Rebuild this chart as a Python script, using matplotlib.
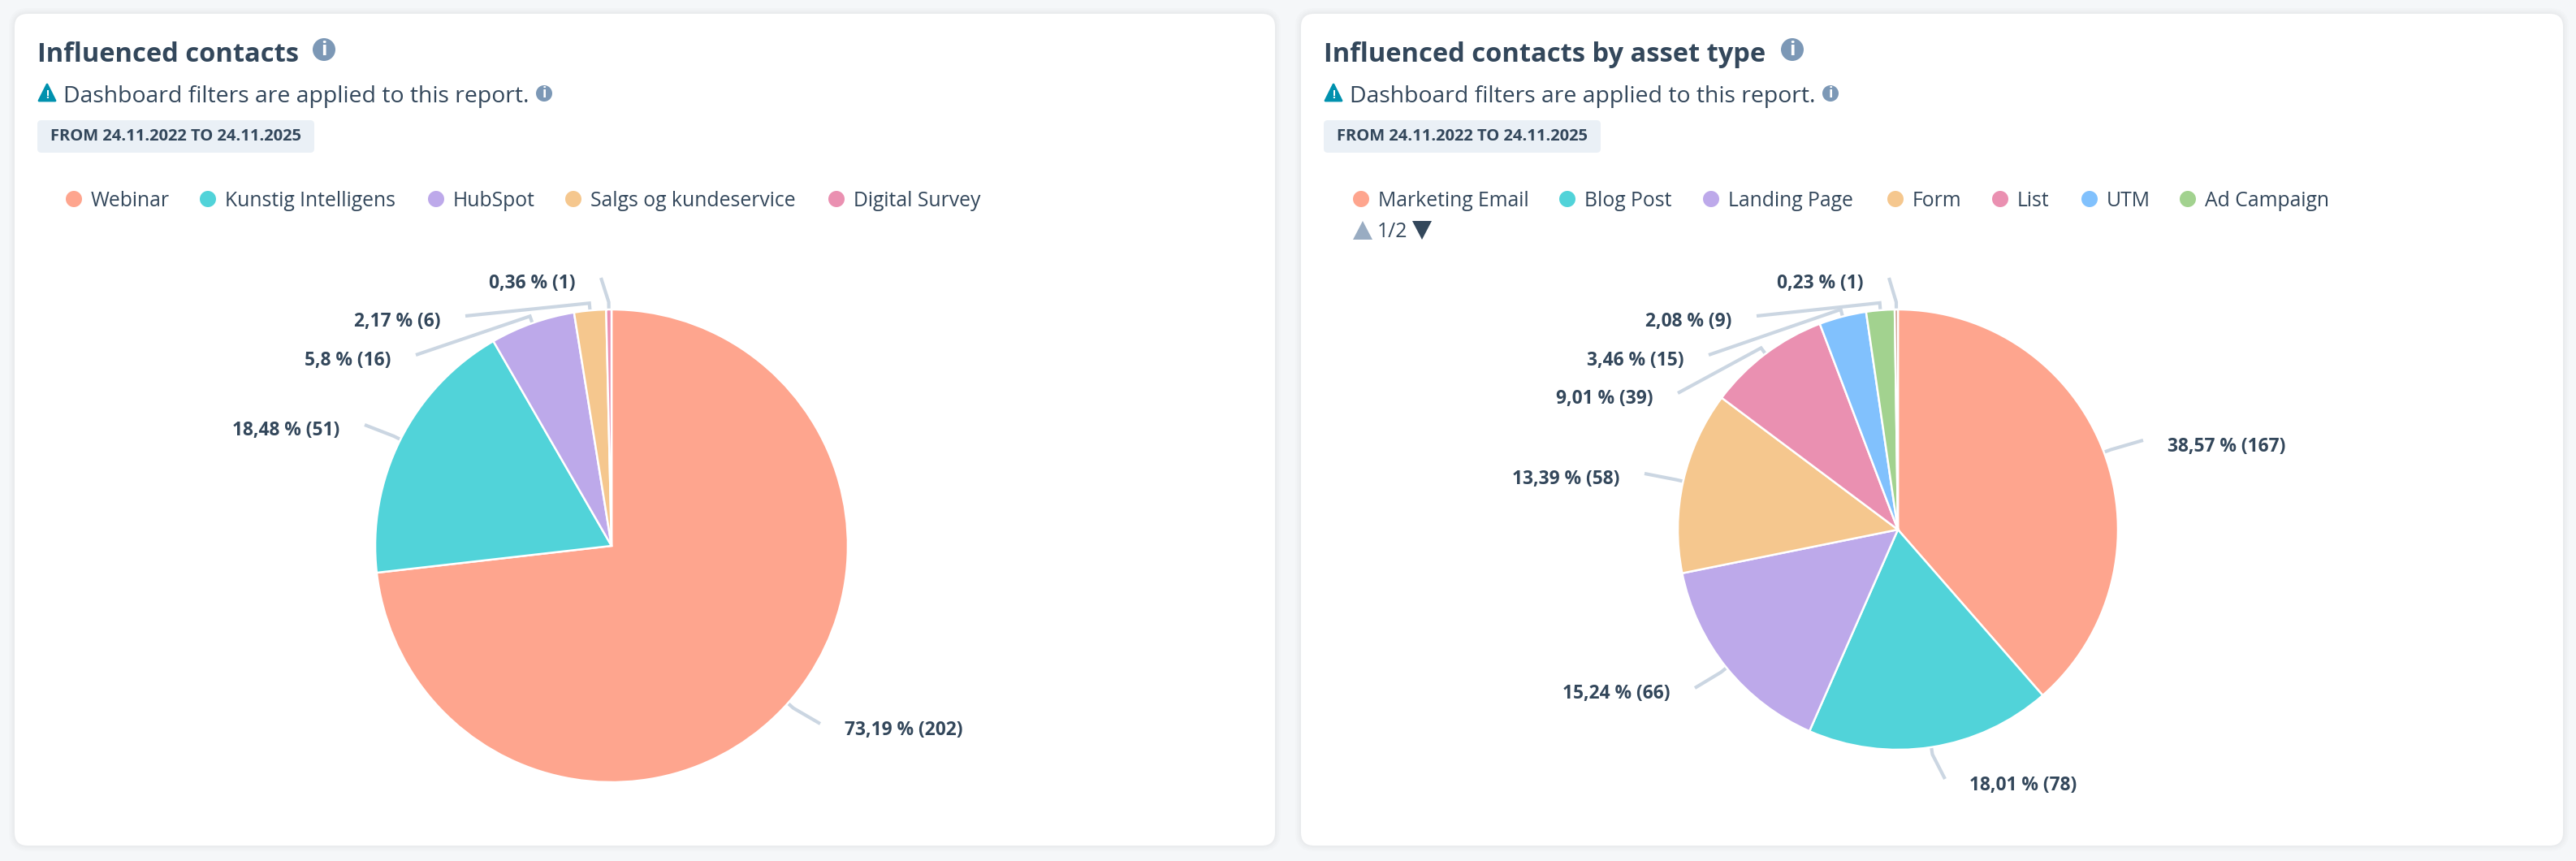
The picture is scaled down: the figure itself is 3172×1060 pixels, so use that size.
import matplotlib
matplotlib.use("Agg")
import matplotlib.pyplot as plt
from matplotlib.patches import FancyBboxPatch, Circle, Polygon
import numpy as np

W, H = 3172, 1060

# data
left_title = "Influenced contacts"
left_names = ["Webinar", "Kunstig Intelligens", "HubSpot", "Salgs og kundeservice", "Digital Survey"]
left_values = [202, 51, 16, 6, 1]
left_colors = ["#FEA58E", "#51D3D9", "#BDA9EA", "#F5C78E", "#EA90B1"]

right_title = "Influenced contacts by asset type"
right_names = ["Marketing Email", "Blog Post", "Landing Page", "Form", "List", "UTM", "Ad Campaign"]
right_values = [167, 78, 66, 58, 39, 15, 9, 1]
right_colors = ["#FEA58E", "#51D3D9", "#BDA9EA", "#F5C78E", "#EA90B1", "#81C1FD", "#A2D28F", "#C4907C"]

subtitle = "Dashboard filters are applied to this report."
date_badge = "FROM 24.11.2022 TO 24.11.2025"

# layout, in pixels from the top left
left_leader_ends = [(1010, 891), (449, 523), (512, 437), (573, 389), (740, 342)]
right_leader_ends = [(2639, 542), (2395, 959), (2087, 847), (2025, 583), (2066, 484), (2104, 437), (2163, 389), (2326, 342)]
left_legend_x = [91, 256, 537, 706, 1030]
right_legend_x = [1676, 1930, 2107, 2334, 2463, 2573, 2694]

INK = "#33475B"
ICON = "#7C98B6"
LEADER = "#CBD6E2"
FONT = "Open Sans"

plt.rcParams["font.family"] = [FONT, "DejaVu Sans"]

fig = plt.figure(figsize=(W / 100, H / 100), dpi=100, facecolor="#F5F7F9")
ax = fig.add_axes([0, 0, 1, 1])


def yy(py):
    return H - py


def card(x0, x1, y0, y1):
    # soft shadow, then the white card
    for grow in [7, 5, 3, 1.5]:
        ax.add_patch(FancyBboxPatch((x0 - grow, yy(y1) - grow), x1 - x0 + 2 * grow, y1 - y0 + 2 * grow,
                                    boxstyle="round,pad=0,rounding_size=%g" % (16 + grow),
                                    fc="black", ec="none", alpha=0.012, zorder=0.5))
    ax.add_patch(FancyBboxPatch((x0, yy(y1)), x1 - x0, y1 - y0, boxstyle="round,pad=0,rounding_size=16",
                                fc="white", ec="none", zorder=1))


def info_icon(x, y, r):
    ax.add_patch(Circle((x, yy(y)), r, fc=ICON, ec="none", zorder=4))
    ax.text(x, yy(y) - 0.5, "i", color="white", fontsize=r * 1.25, fontweight="bold", ha="center", va="center", zorder=5)


def warning_icon(x0, y):
    ax.add_patch(Polygon([(x0 + 10, yy(y - 11)), (x0 + 20, yy(y + 9)), (x0, yy(y + 9))], closed=True,
                         fc="#0091AE", ec="#0091AE", lw=2, joinstyle="round", zorder=4))
    ax.text(x0 + 10, yy(y + 2), "!", color="white", fontsize=10, fontweight="bold", ha="center", va="center", zorder=5)


def header(x, title, title_icon_x, sub_icon_x, sub_text_x):
    ax.text(x, yy(68), title, color=INK, fontsize=23.5, fontweight="bold", va="center", ha="left")
    info_icon(title_icon_x, 61, 14)
    warning_icon(x + 2, 115)
    ax.text(sub_text_x, yy(119), subtitle, color=INK, fontsize=20.4, va="center", ha="left")
    info_icon(sub_icon_x, 115, 10)
    ax.add_patch(FancyBboxPatch((x, yy(188)), 341, 40, boxstyle="round,pad=0,rounding_size=5",
                                fc="#EAF0F6", ec="none", zorder=2))
    ax.text(x + 170.5, yy(168), date_badge, color=INK, fontsize=14.5, fontweight="bold", ha="center", va="center", zorder=3)


def legend(names, colors, xs, y):
    for name, col, x in zip(names, colors, xs):
        ax.add_patch(Circle((x, yy(y)), 10, fc=col, ec="none", zorder=3))
        ax.text(x + 21, yy(y + 2), name, color=INK, fontsize=17.8, va="center", ha="left", zorder=3)


def pie_with_labels(values, colors, cx, cy, r, ends):
    ax.pie(values, colors=colors, startangle=90, counterclock=False, center=(cx, yy(cy)), radius=r, frame=True,
           wedgeprops=dict(edgecolor="white", linewidth=1.8, zorder=3))
    total = sum(values)
    edges = np.cumsum([0] + values) / total * 2 * np.pi
    for i, val in enumerate(values):
        mid = (edges[i] + edges[i + 1]) / 2
        sx, sy = np.sin(mid), np.cos(mid)
        end_x, end_y = ends[i]
        ax.plot([cx + sx * r, cx + sx * (r + 9), end_x], [yy(cy) + sy * r, yy(cy) + sy * (r + 9), yy(end_y)],
                color=LEADER, lw=3, solid_joinstyle="miter", solid_capstyle="butt", zorder=2)
        pct = ("%g" % round(val / total * 100, 2)).replace(".", ",")
        label = "%s %% (%d)" % (pct, val)
        if end_x > cx + sx * r:
            ax.text(end_x + 30, yy(end_y + 8), label, color=INK, fontsize=16.4, fontweight="bold", ha="left", va="center", zorder=4)
        else:
            ax.text(end_x - 31, yy(end_y + 7), label, color=INK, fontsize=16.4, fontweight="bold", ha="right", va="center", zorder=4)


card(18, 1570, 17, 1041)
card(1602, 3156, 17, 1041)

header(46, left_title, 399, 670, 78)
header(1630, right_title, 2207, 2254, 1662)

legend(left_names, left_colors, left_legend_x, 245)
legend(right_names, right_colors, right_legend_x, 245)

# legend pager on the right card
ax.add_patch(Polygon([(1678, yy(272)), (1690, yy(295)), (1666, yy(295))], closed=True, fc="#99ACC2", ec="none", zorder=3))
ax.text(1696, yy(285), "1/2", color=INK, fontsize=17.8, va="center", ha="left", zorder=3)
ax.add_patch(Polygon([(1739, yy(272)), (1763, yy(272)), (1751, yy(295))], closed=True, fc=INK, ec="none", zorder=3))

pie_with_labels(left_values, left_colors, 753, 672, 291, left_leader_ends)
pie_with_labels(right_values, right_colors, 2337, 652, 271, right_leader_ends)

ax.set_xlim(0, W)
ax.set_ylim(0, H)
ax.axis("off")

fig.savefig("out.png", dpi=100, facecolor=fig.get_facecolor())
